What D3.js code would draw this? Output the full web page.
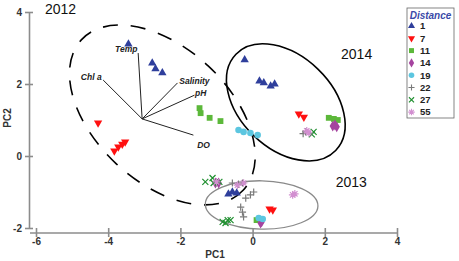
<!DOCTYPE html>
<html>
<head>
<meta charset="utf-8">
<script src="https://cdn.jsdelivr.net/npm/d3@7"></script>
<style>
  body { margin: 0; background: #fff; }
  text { font-family: Arial, "Liberation Sans", sans-serif; }
</style>
</head>
<body>
<div id="chart"></div>
<script>
// PCA scores per distance group, [PC1, PC2]
const dist1 = [[-3.44, 3.11], [-2.78, 2.58], [-2.69, 2.42], [-2.5, 2.31],
  [-0.22, 2.67], [0.19, 2.08], [0.31, 2.03], [0.5, 1.94], [0.61, 2.0],
  [-0.67, -1.06], [-0.56, -1.0], [-0.44, -1.03]];
const dist7 = [[-4.28, 0.92], [-3.83, 0.14], [-3.72, 0.25], [-3.61, 0.33], [-3.53, 0.39],
  [1.28, 1.17], [1.42, 1.08], [0.47, -1.47], [0.56, -1.5]];
const dist11 = [[-1.47, 1.33], [-1.44, 1.19], [-1.19, 1.06], [-0.89, 0.97],
  [2.11, 1.06], [2.25, 1.03], [2.36, 1.0], [0.11, -1.78]];
const dist14 = [[2.22, 0.83], [2.33, 0.81], [2.28, 0.86],
  [-1.03, -0.75], [-0.94, -0.75], [0.25, -1.83], [0.22, -1.86]];
const dist19 = [[-0.39, 0.72], [-0.25, 0.67], [-0.06, 0.64], [0.14, 0.58],
  [0.17, -1.72], [0.28, -1.75]];
const dist22 = [[1.47, 0.67], [1.4, 0.62],
  [-0.56, -0.75], [-0.39, -0.78], [-0.28, -0.75], [-0.19, -1.17], [-0.06, -1.08], [0.03, -1.0],
  [-0.33, -1.42], [-0.28, -1.56], [-0.25, -1.69]];
const dist27 = [[1.69, 0.67], [1.64, 0.6],
  [-1.31, -0.72], [-1.11, -0.61], [-1.08, -0.75], [-0.92, -0.72],
  [-0.83, -1.83], [-0.69, -1.78], [-0.61, -1.78], [-0.75, -1.86]];
const dist55 = [[1.56, 0.64], [1.5, 0.7],
  [-0.42, -0.81], [-0.25, -0.75], [-1.0, -0.72], [1.11, -1.08], [1.17, -1.05]];

const distances = ["1", "7", "11", "14", "19", "22", "27", "55"];

// environmental loadings (biplot vectors)
const loadOrigin = [-3.06, 1.03];
const loadNames = ["Temp", "Chl a", "Salinity", "pH", "DO"];
const loadEnds = [[-3.17, 2.86], [-4.14, 2.11], [-2.08, 2.03], [-1.61, 1.69], [-1.64, 0.58]];
const loadLabelPos = [[-3.5, 2.98], [-4.47, 2.2], [-1.61, 2.08], [-1.44, 1.75], [-1.36, 0.3]];

// year groups: center, semi axes (PC units), rotation in degrees
const years = ["2012", "2014", "2013"];
const yearCenters = [[-2.5, 1.14], [0.92, 1.49], [0.25, -1.36]];
const yearRadii = [[3.06, 1.86], [1.92, 1.28], [1.56, 0.67]];
const yearAngles = [43, 44, 1];
const yearLabelPos = [[-5.75, 3.95], [2.45, 2.7], [2.3, -0.85]];

const xTicks = [-6, -4, -2, 0, 2, 4];
const yTicks = [-2, 0, 2, 4];

const width = 459, height = 261;
const svg = d3.select("#chart").append("svg")
  .attr("width", width).attr("height", height);

const x = d3.scaleLinear().domain([-6, 4]).range([36, 397]);
const y = d3.scaleLinear().domain([-2, 4]).range([228, 12]);
const px = v => x(v) - x(0);
const fmt = d => String(d);

const axisColor = "#8c8c8c";

// x axis
const gx = svg.append("g")
  .attr("transform", `translate(0,${y(-2) + 5})`)
  .call(d3.axisBottom(x).tickValues(xTicks).tickFormat(fmt)
    .tickSizeInner(4).tickSizeOuter(0).tickPadding(1));
gx.select(".domain").attr("d", `M${x(-6) - 6},0H${x(4)}`);
gx.selectAll(".tick line").attr("y1", -5);

// y axis
const gy = svg.append("g")
  .attr("transform", `translate(${x(-6) - 7},0)`)
  .call(d3.axisLeft(y).tickValues(yTicks).tickFormat(fmt)
    .tickSizeInner(4).tickSizeOuter(0).tickPadding(3));
gy.selectAll(".tick line").attr("x1", 4);

svg.selectAll(".domain, .tick line").attr("stroke", axisColor).attr("stroke-width", 1.6);
svg.selectAll(".tick text").attr("font-size", 10).attr("font-weight", "bold")
  .attr("fill", "#333").attr("font-family", "Arial, 'Liberation Sans', sans-serif");

svg.append("text").attr("x", 215).attr("y", 258).attr("text-anchor", "middle")
  .attr("font-size", 10).attr("font-weight", "bold").attr("fill", "#333").text("PC1");
svg.append("text").attr("transform", "translate(11,118) rotate(-90)").attr("text-anchor", "middle")
  .attr("font-size", 10).attr("font-weight", "bold").attr("fill", "#333").text("PC2");

// year ellipses
const yearStyles = [
  { stroke: "#000", width: 1.6, dash: "15,13" },
  { stroke: "#000", width: 1.6, dash: null },
  { stroke: "#8a8a8a", width: 1.3, dash: null }
];
years.forEach((yr, i) => {
  const c = yearCenters[i];
  svg.append("ellipse")
    .attr("transform", `translate(${x(c[0])},${y(c[1])}) rotate(${yearAngles[i]})`)
    .attr("rx", px(yearRadii[i][0])).attr("ry", px(yearRadii[i][1]))
    .attr("fill", "none")
    .attr("stroke", yearStyles[i].stroke)
    .attr("stroke-width", yearStyles[i].width)
    .attr("stroke-dasharray", yearStyles[i].dash);
  svg.append("text")
    .attr("x", x(yearLabelPos[i][0])).attr("y", y(yearLabelPos[i][1]))
    .attr("font-size", 14).attr("fill", "#111").text(yr);
});

// loadings
loadNames.forEach((name, i) => {
  svg.append("line")
    .attr("x1", x(loadOrigin[0])).attr("y1", y(loadOrigin[1]))
    .attr("x2", x(loadEnds[i][0])).attr("y2", y(loadEnds[i][1]))
    .attr("stroke", "#222").attr("stroke-width", 1);
  svg.append("text")
    .attr("x", x(loadLabelPos[i][0])).attr("y", y(loadLabelPos[i][1]))
    .attr("text-anchor", "middle").attr("dy", "0.35em")
    .attr("font-size", 8.5).attr("font-style", "italic").attr("font-weight", "bold")
    .attr("fill", "#222").text(name);
});

// marker shapes
const tri = d3.symbol().type(d3.symbolTriangle).size(30)();
const sq = d3.symbol().type(d3.symbolSquare).size(34)();
const dia = d3.symbol().type(d3.symbolDiamond).size(34)();
const circ = d3.symbol().type(d3.symbolCircle).size(34)();
function plus(r) { return `M${-r},0H${r}M0,${-r}V${r}`; }
function cross(r) { return `M${-r},${-r}L${r},${r}M${-r},${r}L${r},${-r}`; }
function aster(r) {
  let d = "";
  for (let k = 0; k < 4; k++) {
    const a = k * Math.PI / 4;
    d += `M${-r * Math.cos(a)},${-r * Math.sin(a)}L${r * Math.cos(a)},${r * Math.sin(a)}`;
  }
  return d;
}

const series = [
  { data: dist1, d: tri, rot: 0, fill: "#2f3f9c", stroke: null },
  { data: dist7, d: tri, rot: 180, fill: "#ff1010", stroke: null },
  { data: dist11, d: sq, rot: 0, fill: "#5cb83a", stroke: null },
  { data: dist14, d: dia, rot: 0, fill: "#a5449f", stroke: null },
  { data: dist19, d: circ, rot: 0, fill: "#5cc6e0", stroke: null },
  { data: dist22, d: plus(3.6), rot: 0, fill: "none", stroke: "#7a7a7a" },
  { data: dist27, d: cross(3), rot: 0, fill: "none", stroke: "#1f8f2f" },
  { data: dist55, d: aster(3.8), rot: 0, fill: "none", stroke: "#d28fd0" }
];

series.forEach(s => {
  svg.append("g").selectAll("path")
    .data(s.data)
    .join("path")
    .attr("transform", d => `translate(${x(d[0])},${y(d[1])}) rotate(${s.rot})`)
    .attr("d", s.d)
    .attr("fill", s.fill)
    .attr("stroke", s.stroke)
    .attr("stroke-width", s.stroke ? 1.2 : null);
});

// legend
const lg = svg.append("g").attr("transform", "translate(407,8)");
lg.append("rect").attr("width", 47).attr("height", 110)
  .attr("fill", "#fff").attr("stroke", "#666").attr("stroke-width", 0.8);
lg.append("text").attr("x", 23.5).attr("y", 11).attr("text-anchor", "middle")
  .attr("font-size", 10).attr("font-style", "italic").attr("font-weight", "bold")
  .attr("fill", "#3a4aa8").text("Distance");
distances.forEach((lab, i) => {
  const s = series[i];
  const ly = 18 + i * 12.3;
  lg.append("path")
    .attr("transform", `translate(4.5,${ly}) rotate(${s.rot}) scale(0.85)`)
    .attr("d", s.d).attr("fill", s.fill).attr("stroke", s.stroke)
    .attr("stroke-width", s.stroke ? 1.3 : null);
  lg.append("text").attr("x", 13).attr("y", ly).attr("dy", "0.35em")
    .attr("font-size", 9.5).attr("font-weight", "bold").attr("fill", "#222").text(lab);
});
</script>
</body>
</html>
